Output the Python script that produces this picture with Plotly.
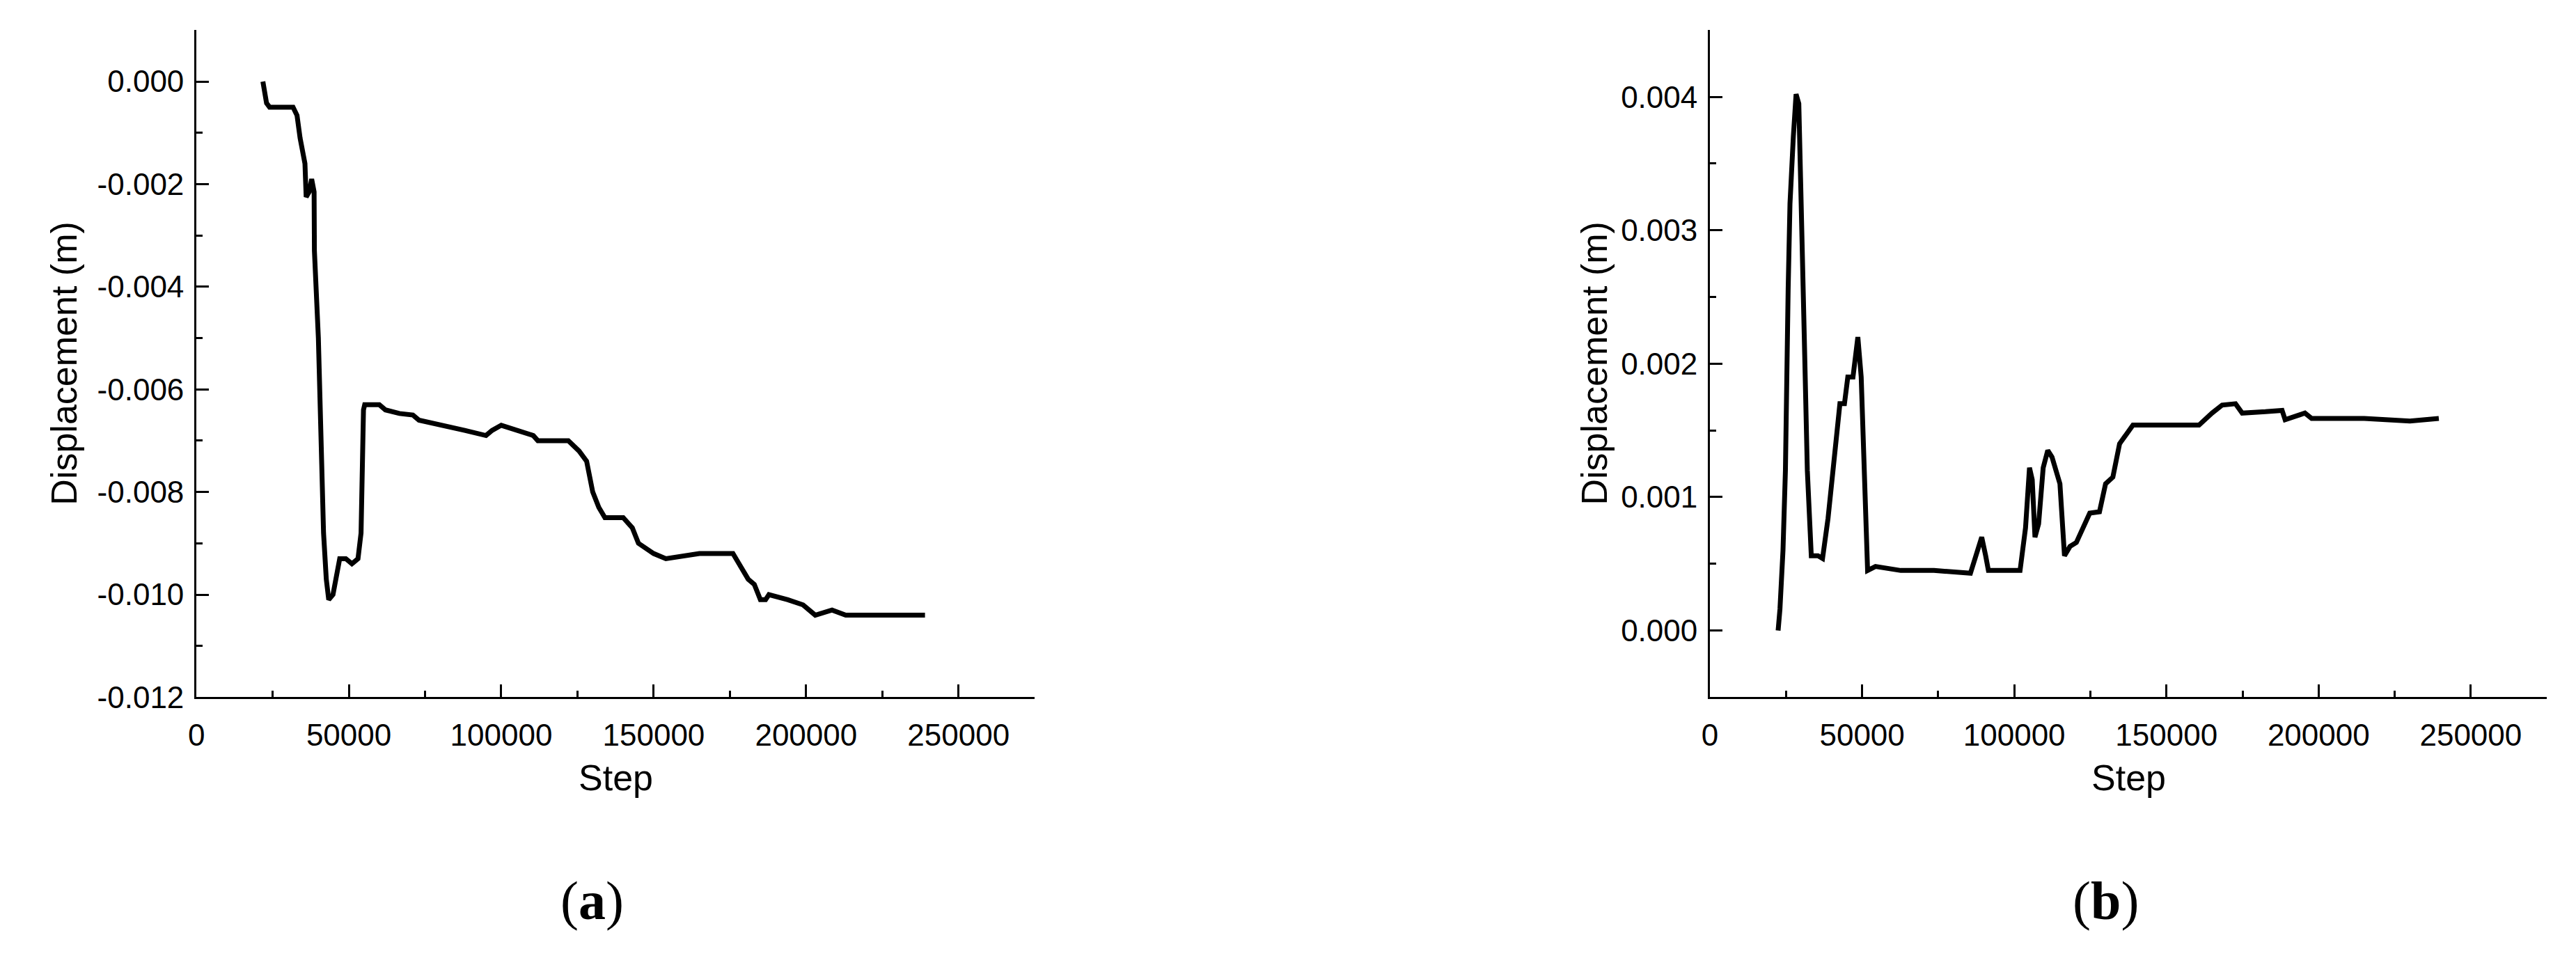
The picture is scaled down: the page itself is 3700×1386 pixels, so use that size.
import plotly.graph_objects as go

# panel (a) - displacement vs step
step_a = [21800, 23000, 24000, 31700, 33000, 34000, 35600, 36000, 37000, 37800,
          38600, 38700, 40000, 40800, 41700, 42600, 43400, 44800, 45900, 47000,
          49000, 51000, 53000, 54000, 54800, 55200, 60000, 62000, 66600, 71000,
          73000, 79700, 88000, 95000, 97000, 100000, 105000, 110500, 112000, 119000,
          122000, 125500, 128000, 130000, 132000, 134000, 140000, 143000, 145000, 150000,
          154000, 165000, 176000, 178000, 181000, 183000, 185000, 186700, 187800, 194000,
          199000, 203000, 208500, 213000, 218000, 221600, 239000]
disp_a = [0.0, -0.00042, -0.0005, -0.0005, -0.00066, -0.0011, -0.0016, -0.00225, -0.00215, -0.0019,
          -0.00215, -0.0033, -0.005, -0.0068, -0.0088, -0.0097, -0.0101, -0.0100, -0.0096, -0.0093,
          -0.0093, -0.0094, -0.0093, -0.0088, -0.0064, -0.0063, -0.0063, -0.0064, -0.00647, -0.0065,
          -0.0066, -0.0067, -0.0068, -0.0069, -0.0068, -0.0067, -0.0068, -0.0069, -0.0070, -0.0070,
          -0.0070, -0.0072, -0.0074, -0.0080, -0.0083, -0.0085, -0.0085, -0.0087, -0.0090, -0.0092,
          -0.0093, -0.0092, -0.0092, -0.0094, -0.0097, -0.0098, -0.0101, -0.0101, -0.0100, -0.0101,
          -0.0102, -0.0104, -0.0103, -0.0104, -0.0104, -0.0104, -0.0104]

# panel (b)
step_b = [22400, 23000, 24000, 24800, 25700, 26300, 27400, 28300, 29200, 30000,
          31000, 32000, 33300, 35500, 37000, 38800, 41000, 42700, 44200, 45300,
          47000, 48600, 49700, 50700, 51800, 54400, 62700, 73600, 85600, 87800,
          89300, 90600, 91500, 101900, 103700, 105000, 105900, 106800, 108000, 109500,
          111000, 112400, 113900, 115000, 116500, 118300, 120400, 122600, 124800, 128000,
          130000, 132400, 134600, 136800, 139000, 145500, 160700, 165000, 168300, 172700,
          174900, 182500, 188000, 189000, 195500, 197700, 215000, 230000, 239500]
disp_b = [0.0, 0.00016, 0.0006, 0.0012, 0.00256, 0.0032, 0.0037, 0.00402, 0.00395, 0.0033,
          0.0022, 0.0012, 0.00056, 0.00056, 0.00054, 0.00084, 0.0013, 0.0017, 0.0017, 0.0019,
          0.0019, 0.0022, 0.0019, 0.0011, 0.00045, 0.00048, 0.00045, 0.00045, 0.00043, 0.00059,
          0.0007, 0.00056, 0.00045, 0.00045, 0.00077, 0.00122, 0.00113, 0.0007, 0.0008, 0.00122,
          0.00135, 0.0013, 0.00117, 0.0011, 0.00056, 0.00063, 0.00066, 0.00077, 0.00088, 0.00089,
          0.0011, 0.00115, 0.0014, 0.00147, 0.00154, 0.00154, 0.00154, 0.00163, 0.00169, 0.0017,
          0.00163, 0.00164, 0.00165, 0.00158, 0.00163, 0.00159, 0.00159, 0.00157, 0.00159]

x_ticks = [0, 50000, 100000, 150000, 200000, 250000]
ya_ticks = [0.0, -0.002, -0.004, -0.006, -0.008, -0.010, -0.012]
yb_ticks = [0.0, 0.001, 0.002, 0.003, 0.004]

# page is 3700x1386, the html body adds an 8px margin -> shrink the figure to fit
PAD = 8
W, H = 3700 - PAD, 1386 - PAD


def px(x):  # page pixel -> paper x
    return (x - PAD) / W


def py(y):  # page pixel -> paper y
    return 1 - (y - PAD) / H


tick_font = dict(family='Liberation Sans, Arial', size=44, color='black')

fig = go.Figure()
fig.add_trace(go.Scatter(x=step_a, y=disp_a, mode='lines',
                         line=dict(color='black', width=7), xaxis='x', yaxis='y'))
fig.add_trace(go.Scatter(x=step_b, y=disp_b, mode='lines',
                         line=dict(color='black', width=7), xaxis='x2', yaxis='y2'))


def xax(dom, anchor):
    return dict(
        domain=dom, anchor=anchor, range=[0, 275000],
        showline=True, linecolor='black', linewidth=3,
        ticks='inside', ticklen=18, tickwidth=3, tickcolor='black',
        tickmode='array', tickvals=x_ticks, ticktext=[str(v) for v in x_ticks],
        minor=dict(ticks='inside', ticklen=9, tickwidth=3, tickcolor='black',
                   dtick=25000, tick0=0, showgrid=False),
        ticklabelstandoff=14,
        showgrid=False, zeroline=False, tickfont=tick_font,
    )


def yax(dom, anchor, rng, vals, minor_step):
    return dict(
        domain=dom, anchor=anchor, range=rng,
        showline=True, linecolor='black', linewidth=3,
        ticks='inside', ticklen=18, tickwidth=3, tickcolor='black',
        tickmode='array', tickvals=vals, ticktext=['%.3f' % v for v in vals],
        minor=dict(ticks='inside', ticklen=9, tickwidth=3, tickcolor='black',
                   dtick=minor_step, tick0=0, showgrid=False),
        ticklabelstandoff=6,
        showgrid=False, zeroline=False, tickfont=tick_font,
    )


y_dom = [py(1019), py(44)]

fig.update_layout(
    width=W, height=H,
    margin=dict(l=0, r=0, t=0, b=0),
    paper_bgcolor='white', plot_bgcolor='white',
    showlegend=False,
    xaxis=xax([px(271), px(1479)], 'y'),
    yaxis=yax(y_dom, 'x', [-0.012, 0.001], ya_ticks, 0.001),
    xaxis2=xax([px(2452), px(3658)], 'y2'),
    yaxis2=yax(y_dom, 'x2', [-0.0005, 0.0045], yb_ticks, 0.0005),
)

title_font = dict(family='Liberation Sans, Arial', size=52, color='black')
label_font = dict(family='Liberation Serif, Times New Roman', size=78, color='black')

for xc_title, xc_plot in [(80, 875), (2285, 3055)]:
    fig.add_annotation(x=px(xc_title), y=py(531), xref='paper', yref='paper',
                       text='Displacement (m)', textangle=-90, showarrow=False,
                       font=title_font, xanchor='center', yanchor='middle')
    fig.add_annotation(x=px(xc_plot), y=py(1137), xref='paper', yref='paper',
                       text='Step', showarrow=False, font=title_font,
                       xanchor='center', yanchor='middle')

fig.add_annotation(x=px(841), y=py(1316), xref='paper', yref='paper',
                   text='(<b>a</b>)', showarrow=False, font=label_font,
                   xanchor='center', yanchor='middle')
fig.add_annotation(x=px(3022), y=py(1316), xref='paper', yref='paper',
                   text='(<b>b</b>)', showarrow=False, font=label_font,
                   xanchor='center', yanchor='middle')

fig.write_html("out.html")
